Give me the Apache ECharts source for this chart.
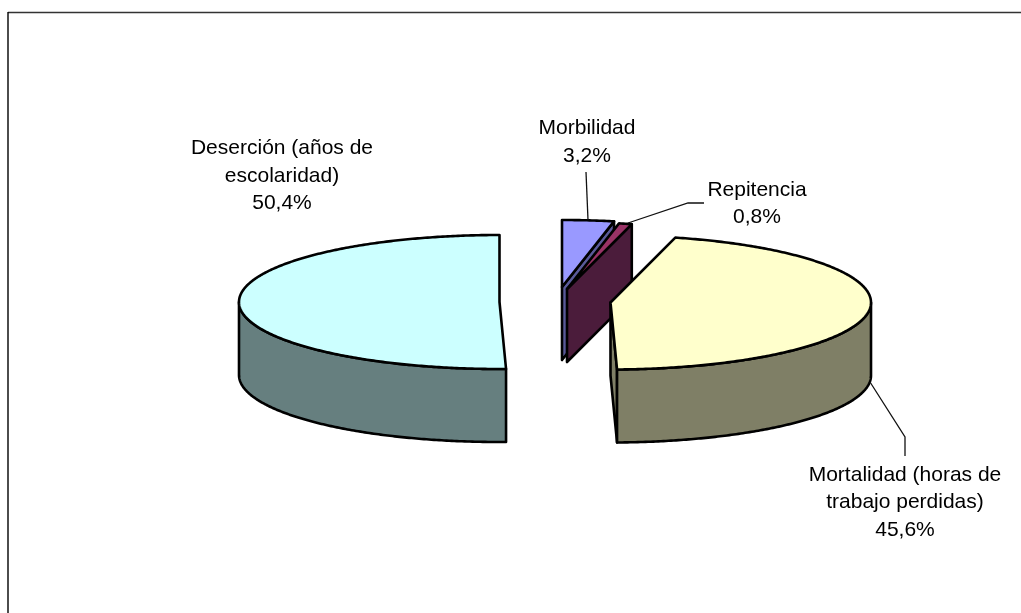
<!DOCTYPE html>
<html><head><meta charset="utf-8">
<style>html,body{margin:0;padding:0;background:#fff}#c{width:1021px;height:613px}</style>
<script src="https://cdn.jsdelivr.net/npm/echarts@6/dist/echarts.min.js"></script>
</head><body><div id="c"></div>
<script>
// data
const categories = ['Morbilidad','Repitencia','Mortalidad (horas de\ntrabajo perdidas)','Deserción (años de\nescolaridad)'];
const shares = [3.2, 0.8, 45.6, 50.4];

// styling and layout
const topColors = ['#9999FF','#993366','#FFFFCC','#CCFFFF'];
const sideColors = ['#5A5A99','#4B1C3B','#7F7F66','#667F7F'];
const centers = [[562,287],[567,289],[610.5,302.5],[499.5,302]];
const labelPos = [[587,142],[757,203.5],[905,502.5],[282,176]];
const leaders = [
  [[588,220],[586,172]],
  [[628,223],[688,203],[704,203]],
  [[870,382],[905,437],[905,456]],
  null
];
const RX = 260.5, RY = 67, DEPTH = 73;
const FONT = '21px "Liberation Sans", Arial, sans-serif';

const total = shares.reduce((a,b)=>a+b,0);
const pt = (c,t,d=0)=>[c[0]+RX*Math.sin(t), c[1]-RY*Math.cos(t)+d];
function arc(c,a,b,d=0){
  const n=Math.max(2,Math.ceil(Math.abs(b-a)/0.01)), out=[];
  for(let i=0;i<=n;i++) out.push(pt(c,a+(b-a)*i/n,d));
  return out;
}
function poly(points,fill){
  return {type:'polygon',shape:{points},style:{fill,stroke:'#000',lineWidth:2.6,lineJoin:'round'}};
}
const PI=Math.PI;
function renderSlice(params,api){
  const i=params.dataIndex, c=centers[i], value=api.value(0);
  let before=0; for(let k=0;k<i;k++) before+=shares[k];
  const a=before/total*2*PI, b=(before+value)/total*2*PI;
  const kids=[];
  const side=sideColors[i];
  // cut faces turned toward the viewer
  const wall=(t)=>poly([[c[0],c[1]],pt(c,t),pt(c,t,DEPTH),[c[0],c[1]+DEPTH]],side);
  if(Math.sin(a)<-1e-6) kids.push(wall(a));
  if(Math.sin(b)>1e-6) kids.push(wall(b));
  // outer rim on the front half
  const f0=Math.max(a,PI/2), f1=Math.min(b,3*PI/2);
  if(f1>f0){
    kids.push(poly(arc(c,f0,f1).concat(arc(c,f1,f0,DEPTH)),side));
  }
  // top face
  kids.push(poly([[c[0],c[1]]].concat(arc(c,a,b)),topColors[i]));
  // leader
  if(leaders[i]) kids.push({type:'polyline',shape:{points:leaders[i]},style:{fill:null,stroke:'#111',lineWidth:1.3},z2:5});
  // label
  kids.push({type:'text',x:labelPos[i][0],y:labelPos[i][1],z2:10,style:{
    text:categories[i]+'\n'+value.toFixed(1).replace('.',',')+'%',
    font:FONT,fill:'#000',align:'center',verticalAlign:'middle',lineHeight:27.5}});
  return {type:'group',children:kids};
}
const chart=echarts.init(document.getElementById('c'),null,{renderer:'canvas'});
chart.setOption({
  animation:false,
  backgroundColor:'#fff',
  graphic:[
    {type:'line',shape:{x1:8,y1:12.5,x2:1021,y2:12.5},style:{stroke:'#333',lineWidth:1.6}},
    {type:'line',shape:{x1:8,y1:12,x2:8,y2:613},style:{stroke:'#000',lineWidth:1.4}}
  ],
  series:[{type:'custom',coordinateSystem:'none',renderItem:renderSlice,
    data:shares.map(v=>[v]),silent:true}]
});
</script></body></html>
